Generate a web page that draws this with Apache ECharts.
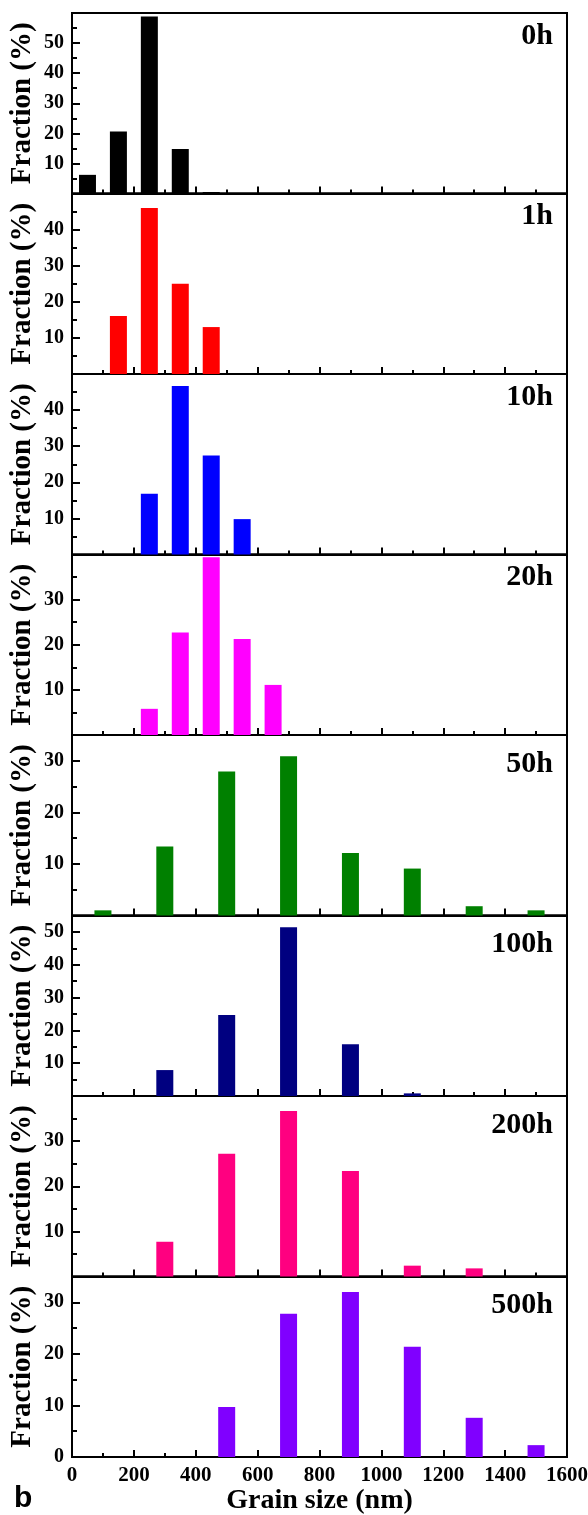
<!DOCTYPE html>
<html><head><meta charset="utf-8">
<script src="https://cdn.jsdelivr.net/npm/echarts@6/dist/echarts.min.js"></script>
<style>html,body{margin:0;padding:0;background:#fff}#c{width:588px;height:1515px}</style>
</head><body><div id="c"></div>
<script>
// ---- data ----
const panelLabels = ['0h', '1h', '10h', '20h', '50h', '100h', '200h', '500h'];
const barColors = ['#000000', '#FF0000', '#0000FF', '#FF00FF', '#008000', '#000080', '#FF0080', '#8000FF'];
const yMax = [60, 50, 50, 40, 35, 55, 40, 35];

const size0h = [50, 150, 250, 350, 450];
const frac0h = [6.2, 20.6, 58.8, 14.8, 0.5];
const size1h = [150, 250, 350, 450];
const frac1h = [16.1, 46.0, 25.0, 13.0];
const size10h = [250, 350, 450, 550];
const frac10h = [16.8, 46.7, 27.4, 9.8];
const size20h = [250, 350, 450, 550, 650];
const frac20h = [5.8, 22.7, 39.4, 21.3, 11.1];
const size50h = [100, 300, 500, 700, 900, 1100, 1300, 1500];
const frac50h = [1.0, 13.4, 27.9, 30.9, 12.1, 9.1, 1.8, 1.0];
const size100h = [300, 500, 700, 900, 1100];
const frac100h = [7.9, 24.7, 51.4, 15.8, 0.8];
const size200h = [300, 500, 700, 900, 1100, 1300];
const frac200h = [7.7, 27.2, 36.7, 23.4, 2.4, 1.8];
const size500h = [500, 700, 900, 1100, 1300, 1500];
const frac500h = [9.7, 27.8, 32.0, 21.4, 7.6, 2.3];

const xTickLabels = [0, 200, 400, 600, 800, 1000, 1200, 1400, 1600];
const xAxisTitle = 'Grain size (nm)';
const yAxisTitle = 'Fraction (%)';
const panelTag = 'b';

const sizes = [size0h, size1h, size10h, size20h, size50h, size100h, size200h, size500h];
const fracs = [frac0h, frac1h, frac10h, frac20h, frac50h, frac100h, frac200h, frac500h];

// ---- layout ----
const SERIF = '"Liberation Serif", "Times New Roman", serif';
const N = panelLabels.length;
const TOP0 = 13, PH = 180.5, LEFT = 72, RIGHT = 21;
const black = '#000';
const lineW = 2;

const grids = [], xAxes = [], yAxes = [], series = [], graphics = [];
for (let i = 0; i < N; i++) {
  const top = TOP0 + i * PH;
  const last = i === N - 1;
  grids.push({ left: LEFT, right: RIGHT, top: top, height: PH, show: true,
    borderColor: black, borderWidth: lineW, backgroundColor: 'transparent', outerBoundsMode: 'none' });
  xAxes.push({
    type: 'value', gridIndex: i, min: xTickLabels[0], max: xTickLabels[xTickLabels.length - 1], interval: 200,
    axisLine: { show: true, onZero: false, lineStyle: { color: black, width: lineW } },
    axisTick: { show: true, inside: true, length: 7, lineStyle: { color: black, width: lineW } },
    minorTick: { show: true, splitNumber: 2, length: 4, lineStyle: { color: black, width: lineW } },
    splitLine: { show: false }, minorSplitLine: { show: false },
    axisLabel: { show: last, color: black, fontFamily: SERIF, fontWeight: 'bold', fontSize: 21, margin: 8,
      showMinLabel: true, showMaxLabel: true, formatter: v => String(v) },
    name: last ? xAxisTitle : '', nameLocation: 'middle', nameGap: 30,
    nameTextStyle: { color: black, fontFamily: SERIF, fontWeight: 'bold', fontSize: 28 }
  });
  // main y axis (labels + major ticks)
  yAxes.push({
    type: 'value', gridIndex: i, min: 0, max: yMax[i], interval: 10, position: 'left', offset: 0,
    axisLine: { show: true, onZero: false, lineStyle: { color: black, width: lineW } },
    axisTick: { show: true, inside: true, length: 8, lineStyle: { color: black, width: lineW } },
    splitLine: { show: false },
    axisLabel: { color: black, fontFamily: SERIF, fontWeight: 'bold', fontSize: 20, margin: 8,
      showMinLabel: last, showMaxLabel: false },
    name: yAxisTitle, nameLocation: 'middle', nameGap: 35, nameRotate: 90, nameMoveOverlap: false,
    nameTextStyle: { color: black, fontFamily: SERIF, fontWeight: 'bold', fontSize: 29 }
  });
  // minor ticks axis
  const minors = [];
  for (let v = 5; v < yMax[i]; v += 10) minors.push(v);
  yAxes.push({
    type: 'value', gridIndex: i, min: 0, max: yMax[i], interval: 10, position: 'left', offset: 0,
    axisLine: { show: false },
    axisTick: { show: true, inside: true, length: 5, customValues: minors, lineStyle: { color: black, width: lineW } },
    axisLabel: { show: false }, splitLine: { show: false }
  });
  series.push({
    type: 'bar', xAxisIndex: i, yAxisIndex: 2 * i, barWidth: 17,
    itemStyle: { color: barColors[i] },
    data: sizes[i].map((s, k) => [s, fracs[i][k]])
  });
  graphics.push({
    type: 'text', right: 35, top: top + (i < 4 ? 8 : 14),
    style: { text: panelLabels[i], font: 'bold 30px ' + SERIF, fill: black }
  });
}
graphics.push({ type: 'text', left: 14, top: 1484,
  style: { text: panelTag, font: 'bold 30px "Liberation Sans", Arial, sans-serif', fill: black } });

const chart = echarts.init(document.getElementById('c'), null, { renderer: 'canvas' });
chart.setOption({
  animation: false,
  backgroundColor: '#fff',
  grid: grids, xAxis: xAxes, yAxis: yAxes, series: series, graphic: graphics
});
</script></body></html>
